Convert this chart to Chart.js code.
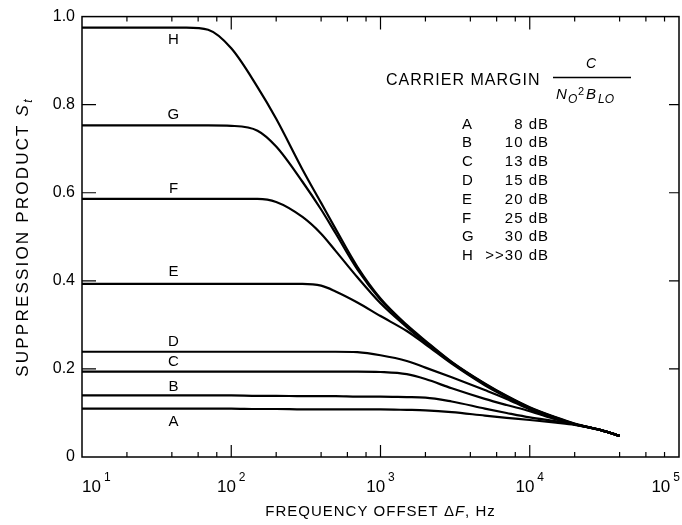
<!DOCTYPE html>
<html><head><meta charset="utf-8">
<script src="https://cdn.jsdelivr.net/npm/chart.js@4.4.1/dist/chart.umd.min.js"></script>
<style>html,body{margin:0;padding:0;background:#fff;}canvas{display:block;}</style>
</head><body>
<canvas id="c" width="682" height="525"></canvas>
<script>
// ---- data ----
const freqs = [10, 20, 30, 50, 70, 100, 150, 200, 300, 400, 500, 700, 1000, 1500, 2000, 3000, 5000, 7000, 10000, 15000, 20000, 30000, 40000];
const curveA = [0.110,0.110,0.110,0.110,0.110,0.110,0.109,0.109,0.108,0.108,0.108,0.108,0.108,0.107,0.106,0.102,0.094,0.089,0.084,0.078,0.073,0.061,0.048];
const curveB = [0.140,0.140,0.140,0.140,0.140,0.140,0.139,0.139,0.138,0.138,0.138,0.137,0.137,0.136,0.135,0.126,0.110,0.100,0.090,0.081,0.074,0.061,0.048];
const curveC = [0.194,0.194,0.194,0.194,0.194,0.194,0.194,0.194,0.194,0.194,0.194,0.194,0.193,0.188,0.177,0.156,0.132,0.118,0.104,0.085,0.074,0.061,0.048];
const curveD = [0.239,0.239,0.239,0.239,0.239,0.239,0.239,0.239,0.239,0.239,0.239,0.238,0.231,0.218,0.203,0.181,0.152,0.132,0.108,0.087,0.074,0.061,0.048];
const curveE = [0.393,0.393,0.393,0.393,0.393,0.393,0.393,0.393,0.393,0.389,0.376,0.351,0.320,0.286,0.256,0.212,0.163,0.136,0.110,0.088,0.075,0.061,0.048];
const curveF = [0.586,0.586,0.586,0.586,0.586,0.586,0.586,0.579,0.545,0.507,0.468,0.408,0.349,0.295,0.260,0.214,0.165,0.137,0.111,0.089,0.075,0.061,0.048];
const curveG = [0.753,0.753,0.753,0.753,0.753,0.752,0.741,0.705,0.625,0.562,0.508,0.426,0.357,0.298,0.262,0.215,0.166,0.138,0.112,0.089,0.075,0.061,0.048];
const curveH = [0.975,0.975,0.975,0.975,0.970,0.928,0.840,0.768,0.653,0.577,0.518,0.432,0.360,0.300,0.264,0.216,0.167,0.139,0.113,0.090,0.076,0.061,0.048];
const curveNames = ['A','B','C','D','E','F','G','H'];
const marginLabels = ['8 dB','10 dB','13 dB','15 dB','20 dB','25 dB','30 dB','>>30 dB'];
const yTickValues = [0, 0.2, 0.4, 0.6, 0.8, 1.0];
const yTickLabels = ['0','0.2','0.4','0.6','0.8','1.0'];
const xMajorTicks = [10, 100, 1000, 10000, 100000];
const xTickBase = '10';
const xTickExponents = ['1','2','3','4','5'];
const xMinorTicks = [20,40,60,80,200,400,600,800,2000,4000,6000,8000,20000,40000,60000,80000];
const yTitle = 'SUPPRESSION PRODUCT ';
const xTitle = 'FREQUENCY OFFSET \u0394';
const legendTitle = 'CARRIER MARGIN';

const allCurves = [curveA, curveB, curveC, curveD, curveE, curveF, curveG, curveH];
const FONT = "'Liberation Sans', Arial, Helvetica, sans-serif";

// style offsets for curve letters (pixels relative to each plateau)
const letterDy = [13, -8, -10, -10, -12, -10, -11, 12];

const decor = {
  id: 'decor',
  beforeDraw(chart) {
    const c = chart.ctx; c.save(); c.fillStyle = '#fff'; c.fillRect(0, 0, chart.width, chart.height); c.restore();
  },
  afterDraw(chart) {
    const ctx = chart.ctx, a = chart.chartArea, xs = chart.scales.x, ys = chart.scales.y;
    ctx.save();
    ctx.strokeStyle = '#000'; ctx.fillStyle = '#000';
    ctx.lineWidth = 1.5;
    ctx.strokeRect(a.left, a.top, a.right - a.left, a.bottom - a.top);
    ctx.lineWidth = 1.2;
    ctx.beginPath();
    xMajorTicks.forEach(v => { const x = xs.getPixelForValue(v); if (x > a.left + 1 && x < a.right - 1) { ctx.moveTo(x, a.bottom); ctx.lineTo(x, a.bottom - 12); ctx.moveTo(x, a.top); ctx.lineTo(x, a.top + 13); } });
    xMinorTicks.forEach(v => { const x = xs.getPixelForValue(v); if (x > a.left + 1 && x < a.right - 1) { ctx.moveTo(x, a.bottom); ctx.lineTo(x, a.bottom - 5); ctx.moveTo(x, a.top); ctx.lineTo(x, a.top + 5); } });
    yTickValues.forEach(v => { const y = ys.getPixelForValue(v); if (y > a.top + 1 && y < a.bottom - 1) { ctx.moveTo(a.left, y); ctx.lineTo(a.left + 14, y); ctx.moveTo(a.right, y); ctx.lineTo(a.right - 10, y); } });
    ctx.stroke();

    // x tick labels 10^n
    ctx.textBaseline = 'alphabetic';
    xMajorTicks.forEach((v, i) => {
      const x = xs.getPixelForValue(v);
      ctx.font = '17px ' + FONT; const w1 = ctx.measureText(xTickBase).width;
      ctx.font = '12px ' + FONT; const w2 = ctx.measureText(xTickExponents[i]).width;
      const gap = 3; const tw = w1 + gap + w2;
      let left = x - tw / 2;
      if (left < a.left) left = a.left;
      if (left + tw > a.right + 1) left = a.right + 1 - tw;
      ctx.textAlign = 'left';
      ctx.font = '17px ' + FONT; ctx.fillText(xTickBase, left, 492);
      ctx.font = '12px ' + FONT; ctx.fillText(xTickExponents[i], left + w1 + gap, 481);
    });

    // x title
    ctx.letterSpacing = '1px';
    ctx.font = '15px ' + FONT;
    const xt1 = ctx.measureText(xTitle).width;
    ctx.font = 'italic 15px ' + FONT;
    const xt2 = ctx.measureText('F').width;
    ctx.font = '15px ' + FONT;
    const xt3 = ctx.measureText(', Hz').width;
    let xl = (a.left + a.right) / 2 - (xt1 + xt2 + xt3) / 2;
    ctx.textAlign = 'left';
    ctx.fillText(xTitle, xl, 516);
    ctx.font = 'italic 15px ' + FONT; ctx.fillText('F', xl + xt1, 516);
    ctx.font = '15px ' + FONT; ctx.fillText(', Hz', xl + xt1 + xt2, 516);

    // y title rotated
    ctx.save();
    ctx.translate(28, 237);
    ctx.rotate(-Math.PI / 2);
    ctx.letterSpacing = '2.2px';
    ctx.font = '17px ' + FONT;
    const yt1 = ctx.measureText(yTitle).width;
    ctx.font = 'italic 17px ' + FONT;
    const yt2 = ctx.measureText('S').width;
    ctx.font = 'italic 12px ' + FONT;
    const yt3 = ctx.measureText('t').width;
    const ytw = yt1 + yt2 + yt3;
    ctx.font = '17px ' + FONT; ctx.fillText(yTitle, -ytw / 2, 0);
    ctx.font = 'italic 17px ' + FONT; ctx.fillText('S', -ytw / 2 + yt1, 0);
    ctx.font = 'italic 12px ' + FONT; ctx.fillText('t', -ytw / 2 + yt1 + yt2, 4);
    ctx.restore();

    // curve letters
    ctx.letterSpacing = '0px';
    ctx.font = '15px ' + FONT;
    ctx.textAlign = 'center'; ctx.textBaseline = 'middle';
    const lx = xs.getPixelForValue(41);
    curveNames.forEach((n, i) => {
      const y = ys.getPixelForValue(allCurves[i][0]) + letterDy[i];
      ctx.fillText(n, lx, y);
    });

    // legend block
    ctx.textBaseline = 'alphabetic';
    ctx.letterSpacing = '1px';
    ctx.font = '16px ' + FONT; ctx.textAlign = 'left';
    ctx.fillText(legendTitle, 386, 85);
    ctx.letterSpacing = '0px';
    // fraction
    ctx.font = 'italic 14px ' + FONT; ctx.textAlign = 'center';
    ctx.fillText('C', 591, 68);
    ctx.lineWidth = 1.3;
    ctx.beginPath(); ctx.moveTo(553, 77.5); ctx.lineTo(631, 77.5); ctx.stroke();
    ctx.textAlign = 'left';
    ctx.font = 'italic 15px ' + FONT; ctx.fillText('N', 556, 99);
    ctx.font = 'italic 12px ' + FONT; ctx.fillText('O', 568, 103);
    ctx.font = '11px ' + FONT; ctx.fillText('2', 578, 95);
    ctx.font = 'italic 15px ' + FONT; ctx.fillText('B', 586, 99);
    ctx.font = 'italic 12px ' + FONT; ctx.fillText('LO', 598, 103);
    ctx.letterSpacing = '1px';
    ctx.font = '15px ' + FONT;
    curveNames.forEach((n, i) => {
      const y = 128.5 + i * 18.8;
      ctx.textAlign = 'left'; ctx.fillText(n, 462, y);
      ctx.textAlign = 'right'; ctx.fillText(marginLabels[i], 549, y);
    });
    ctx.restore();
  }
};

const datasets = allCurves.map((arr, i) => ({
  label: curveNames[i],
  data: freqs.map((f, j) => ({ x: f, y: arr[j] })),
  borderColor: '#000',
  borderWidth: 2.2,
  pointRadius: 0,
  cubicInterpolationMode: 'monotone',
  fill: false
}));

new Chart(document.getElementById('c'), {
  type: 'line',
  data: { datasets },
  options: {
    responsive: false,
    animation: false,
    devicePixelRatio: 1,
    layout: { padding: { left: 0, right: 3, top: 13, bottom: 0 } },
    plugins: { legend: { display: false }, tooltip: { enabled: false } },
    scales: {
      x: {
        type: 'logarithmic', min: 10, max: 100000,
        grid: { display: false, drawTicks: false },
        border: { display: false },
        ticks: { display: false },
        afterFit(s) { s.height = 68; }
      },
      y: {
        type: 'linear', min: 0, max: 1,
        grid: { display: false, drawTicks: false },
        border: { display: false },
        ticks: {
          stepSize: 0.2, padding: 7, color: '#000',
          font: { family: FONT, size: 16 },
          callback: (v, i) => yTickLabels[i]
        },
        afterFit(s) { s.width = 82; }
      }
    }
  },
  plugins: [decor]
});
</script>
</body></html>
